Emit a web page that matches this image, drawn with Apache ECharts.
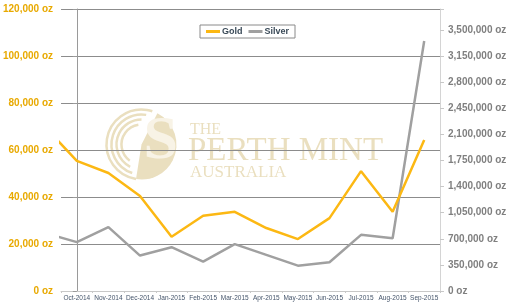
<!DOCTYPE html>
<html>
<head>
<meta charset="utf-8">
<script src="https://cdn.jsdelivr.net/npm/echarts@6/dist/echarts.min.js"></script>
<style>html,body{margin:0;padding:0;background:#fff}#c{width:510px;height:308px}</style>
</head>
<body>
<div id="c"></div>
<script>
var categories = ['Oct-2014','Nov-2014','Dec-2014','Jan-2015','Feb-2015','Mar-2015','Apr-2015','May-2015','Jun-2015','Jul-2015','Aug-2015','Sep-2015'];
// index -1 is the preceding month (Sep-2014), only its segment into the plot is visible
var goldPrev = 69700;
var goldValues = [55400, 50200, 40400, 23100, 32000, 33700, 26800, 22100, 31000, 51000, 33700, 64300];
var silverPrev = 778000;
var silverValues = [655000, 856000, 475000, 587000, 394000, 628000, 484000, 340000, 386000, 753000, 708000, 3352000];
var leftTicks = {min: 0, max: 120000, interval: 20000};
var rightTicks = {min: 0, max: 3780000, interval: 350000};

function pairs(prev, vals) {
  var out = [[-1, prev]];
  vals.forEach(function (v, i) { out.push([i, v]); });
  return out;
}
function fmt(v) { return v.toLocaleString('en-US') + ' oz'; }

var chart = echarts.init(document.getElementById('c'), null, {renderer: 'canvas'});
var wm = '#eadfbf';
chart.setOption({
  animation: false,
  textStyle: {fontFamily: 'Liberation Sans, Arial, sans-serif'},
  grid: {left: 59, right: 70, top: 9, bottom: 17, containLabel: false},
  graphic: [
    {type: 'group', left: 104, top: 107, z: -10, silent: true, children: [
      {type: 'arc', shape: {cx: 36, cy: 36, r: 35, startAngle: Math.PI * 0.55, endAngle: Math.PI * 1.6}, style: {stroke: wm, lineWidth: 2.5, fill: null}},
      {type: 'arc', shape: {cx: 36, cy: 36, r: 30, startAngle: Math.PI * 0.6, endAngle: Math.PI * 1.55}, style: {stroke: wm, lineWidth: 2.5, fill: null}},
      {type: 'arc', shape: {cx: 36, cy: 36, r: 25, startAngle: Math.PI * 0.65, endAngle: Math.PI * 1.5}, style: {stroke: wm, lineWidth: 2.5, fill: null}},
      {type: 'arc', shape: {cx: 36, cy: 36, r: 20, startAngle: Math.PI * 0.7, endAngle: Math.PI * 1.45}, style: {stroke: wm, lineWidth: 2.5, fill: null}},
      {type: 'sector', shape: {cx: 36, cy: 36, r: 35, r0: 0, startAngle: -Math.PI * 0.35, endAngle: Math.PI * 0.55}, style: {fill: wm}},
      {type: 'text', left: 38, top: 2, style: {text: 'S', font: 'bold 62px "Liberation Serif", serif', fill: '#f8f3e6'}}
    ]},
    {type: 'text', left: 190, top: 122, z: -10, silent: true, style: {text: 'THE', font: '16px "Liberation Serif", serif', fill: wm}},
    {type: 'text', left: 188, top: 135, z: -10, silent: true, style: {text: 'PERTH MINT', font: '33px "Liberation Serif", serif', fill: wm}},
    {type: 'text', left: 190, top: 164, z: -10, silent: true, style: {text: 'AUSTRALIA', font: '17px "Liberation Serif", serif', fill: wm}}
  ],
  legend: {
    left: 200, top: 25,
    data: ['Gold', 'Silver'],
    icon: 'rect', itemWidth: 14, itemHeight: 3, itemGap: 6,
    borderColor: '#8a8a8a', borderWidth: 1, padding: [2, 6, 2, 6],
    textStyle: {color: '#3a4a58', fontWeight: 'bold', fontSize: 9, padding: [0, 0, 0, -3]}
  },
  xAxis: [
    {type: 'category', data: categories, boundaryGap: true,
     axisLine: {lineStyle: {color: '#c8c8c8'}},
     axisTick: {show: true, length: 2, lineStyle: {color: '#c8c8c8'}},
     axisLabel: {fontSize: 6.5, color: '#44546a', margin: 4, interval: 0}},
    {type: 'value', min: -0.5, max: 11.5, show: false}
  ],
  yAxis: [
    {type: 'value', min: leftTicks.min, max: leftTicks.max, interval: leftTicks.interval,
     axisLine: {show: true, lineStyle: {color: '#9a9a9a'}},
     axisTick: {show: true, length: 4, lineStyle: {color: '#9a9a9a'}},
     splitLine: {lineStyle: {color: '#8c8c8c', width: 1}},
     axisLabel: {color: '#e8a900', fontWeight: 'bold', fontSize: 10, margin: 8, formatter: fmt}},
    {type: 'value', position: 'right', min: rightTicks.min, max: rightTicks.max, interval: rightTicks.interval,
     axisLine: {show: true, lineStyle: {color: '#d4d4d4'}},
     axisTick: {show: true, length: 4, lineStyle: {color: '#c8c8c8'}},
     splitLine: {show: false},
     axisLabel: {color: '#7f7f7f', fontWeight: 'bold', fontSize: 10, margin: 8,
       formatter: function (v) { return v % rightTicks.interval === 0 ? fmt(v) : ''; }}}
  ],
  series: [
    {name: 'Silver', type: 'line', xAxisIndex: 1, yAxisIndex: 1, data: pairs(silverPrev, silverValues),
     showSymbol: false, symbol: 'none', clip: true, color: '#a0a0a0', lineStyle: {color: '#a0a0a0', width: 2.5}},
    {name: 'Gold', type: 'line', xAxisIndex: 1, yAxisIndex: 0, data: pairs(goldPrev, goldValues),
     showSymbol: false, symbol: 'none', clip: true, color: '#fcb813', lineStyle: {color: '#fcb813', width: 2.5}}
  ]
});
</script>
</body>
</html>
